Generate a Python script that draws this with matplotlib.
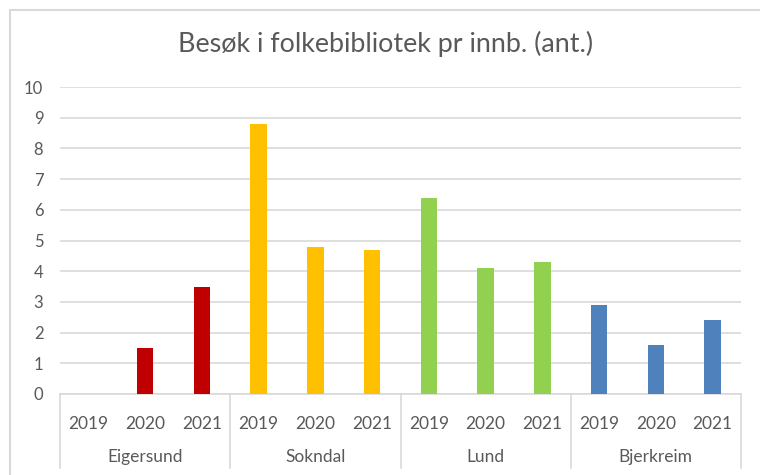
import numpy as np
import matplotlib.pyplot as plt
from matplotlib.patches import Rectangle
from matplotlib.transforms import blended_transform_factory

plt.rcParams['font.family'] = ['Lato', 'DejaVu Sans']

# ---------------- data ----------------
kommuner = ["Eigersund", "Sokndal", "Lund", "Bjerkreim"]
years = ["2019", "2020", "2021"]
eigersund = [np.nan, 1.5, 3.5]
sokndal = [8.8, 4.8, 4.7]
lund = [6.4, 4.1, 4.3]
bjerkreim = [2.9, 1.6, 2.4]
colors = ["#C00000", "#FFC000", "#92D050", "#4F81BD"]
yticks = list(range(0, 11))

TXT = "#595959"
GRID = "#D9D9D9"

fig = plt.figure(figsize=(7.6, 4.75), dpi=100)
W, H = 760, 475

# chart frame (runs past the right/bottom of the picture)
fig.patches.append(Rectangle((10 / W, -0.05), 1.2, 1 - 10 / H + 0.05,
                             transform=fig.transFigure, fill=False,
                             edgecolor=GRID, linewidth=1.5))

ax = fig.add_axes([60 / W, 1 - 394 / H, (741 - 60) / W, (394 - 87) / H])

series = [eigersund, sokndal, lund, bjerkreim]
pos = 0
for vals, col in zip(series, colors):
    x = np.arange(pos, pos + len(vals))
    ax.bar(x, vals, width=0.29, color=col, linewidth=0, zorder=3)
    pos += len(vals)

n = pos
ax.set_xlim(-0.5, n - 0.5)
ax.set_ylim(0, 10)
ax.set_yticks(yticks)
ax.yaxis.grid(True, color=GRID, linewidth=1.2, zorder=0)
for s in ["top", "right", "left"]:
    ax.spines[s].set_visible(False)
ax.spines["bottom"].set_color(GRID)
ax.spines["bottom"].set_linewidth(1.2)

ax.set_xticks(np.arange(n))
ax.set_xticklabels(years * len(kommuner))
ax.tick_params(axis="x", length=0, pad=16, labelsize=12.5, labelcolor=TXT)
ax.tick_params(axis="y", length=0, pad=12, labelsize=12, labelcolor=TXT)

# group labels and separators below the axis
tr = blended_transform_factory(ax.transData, ax.transAxes)
low = -(468 - 394) / (394 - 87)
for i, k in enumerate(kommuner):
    ax.text(3 * i + 1, -(457 - 394) / (394 - 87), k, transform=tr,
            ha="center", va="center", fontsize=12.5, color=TXT)
for b in np.arange(-0.5, n, 3):
    ax.plot([b, b], [0, low], transform=tr, color=GRID, linewidth=1.2,
            clip_on=False)

fig.text(386 / W, 1 - 44 / H, "Besøk i folkebibliotek pr innb. (ant.)",
         ha="center", va="center", fontsize=19.4, color=TXT)

fig.savefig("out.png", dpi=100)
